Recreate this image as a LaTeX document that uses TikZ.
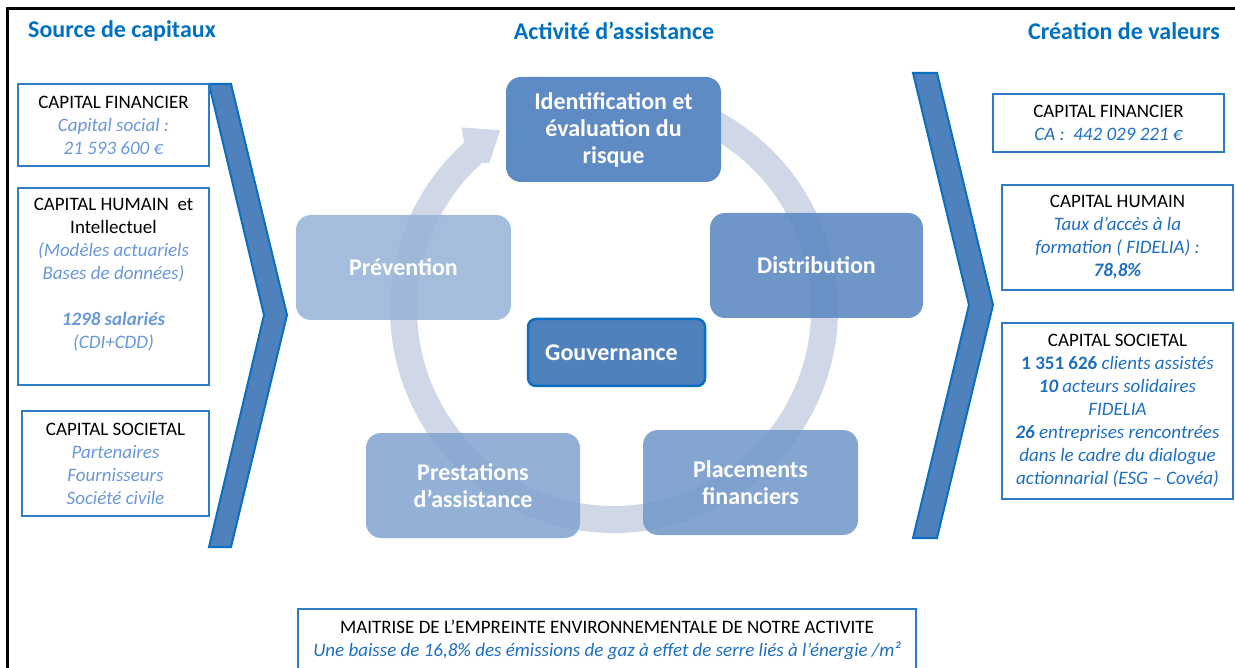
\documentclass[tikz,border=0pt]{standalone}
\usepackage{fontspec}
\setmainfont{Carlito}
\definecolor{hdrblue}{HTML}{0070C0}
\definecolor{boxblue}{HTML}{2E7BC6}
\definecolor{lblue}{HTML}{6A98D8}
\definecolor{dblue}{HTML}{1F6FC0}
\definecolor{chevfill}{HTML}{4F81BD}
\definecolor{chevdraw}{HTML}{0A6FC2}
\definecolor{ringc}{HTML}{D0D8E8}
\definecolor{cIdent}{HTML}{5F8BC4}
\definecolor{cDist}{HTML}{5A88C2}
\definecolor{cPrev}{HTML}{99B4D8}
\definecolor{cPrest}{HTML}{84A5D0}
\definecolor{cPlac}{HTML}{7399C9}
\definecolor{cGouv}{HTML}{4F81BD}
\begin{document}
\begin{tikzpicture}[x=1pt,y=-1pt,
  hdr/.style={font=\fontsize{24}{29}\selectfont\bfseries, text=hdrblue},
  capbox/.style={draw=boxblue, line width=1.6pt, fill=white, inner sep=0pt,
    align=center, font=\fontsize{19}{23}\selectfont},
  txt/.style={align=center, font=\fontsize{19}{23}\selectfont, inner sep=0pt},
  cyc/.style={rounded corners=15pt, text=white, inner sep=0pt, align=center,
    font=\fontsize{24}{27}\selectfont\bfseries, fill opacity=0.88, text opacity=1},
  chev/.style={fill=chevfill, draw=chevdraw, line width=2pt, line join=miter},
]
\useasboundingbox (0,0) rectangle (1235,668);
\clip (0,0) rectangle (1235,668);
% frame
\draw[line width=3pt] (1245,9) -- (7,9) -- (7,680);
% headers
\node[hdr] (h1) at (122,31) {Source de capitaux};
\node[hdr] (h2) at (614,31) {Activité d’assistance};
\node[hdr] (h3) at (1124,31) {Création de valeurs};
% chevrons
\draw[chev] (209,84) -- (231,84) -- (287,315) -- (231,547) -- (209,547) -- (264,315) -- cycle;
\draw[chev] (913,73) -- (937,73) -- (993,305) -- (937,538) -- (913,538) -- (969,305) -- cycle;
% left boxes
\node[capbox, minimum width=191, minimum height=82] (l1) at (113.5,125)
  {CAPITAL FINANCIER\\\textcolor{lblue}{\itshape Capital social :}\\\textcolor{lblue}{\itshape 21 593 600 €}};
\node[capbox, minimum width=191, minimum height=197] (l2) at (113.5,286.5) {};
\node[txt] (l2t) at (113.5,275) {CAPITAL HUMAIN\ \ et\\Intellectuel\\
  \textcolor{lblue}{\itshape (Modèles actuariels}\\\textcolor{lblue}{\itshape Bases de données)}\\[23pt]
  \textcolor{lblue}{\bfseries\itshape 1298 salariés}\\\textcolor{lblue}{\itshape (CDI+CDD)}};
\node[capbox, minimum width=187, minimum height=105] (l3) at (115.5,463.5)
  {CAPITAL SOCIETAL\\\textcolor{lblue}{\itshape Partenaires}\\\textcolor{lblue}{\itshape Fournisseurs}\\\textcolor{lblue}{\itshape Société civile}};
% right boxes
\node[capbox, minimum width=231, minimum height=58] (r1) at (1108.5,123)
  {CAPITAL FINANCIER\\\textcolor{dblue}{\itshape CA :\ \ 442 029 221 €}};
\node[capbox, minimum width=231, minimum height=105] (r2) at (1117.5,237.5)
  {CAPITAL HUMAIN\\\textcolor{dblue}{\itshape Taux d’accès à la}\\\textcolor{dblue}{\itshape formation ( FIDELIA) :}\\\textcolor{dblue}{\bfseries\itshape 78,8\%}};
\node[capbox, minimum width=231, minimum height=176] (r3) at (1117.5,411)
  {CAPITAL SOCIETAL\\\textcolor{dblue}{\textbf{1 351 626} \itshape clients assistés}\\
   \textcolor{dblue}{\itshape\textbf{10} acteurs solidaires}\\\textcolor{dblue}{\itshape FIDELIA}\\
   \textcolor{dblue}{\itshape\textbf{26} entreprises rencontrées}\\\textcolor{dblue}{\itshape dans le cadre du dialogue}\\
   \textcolor{dblue}{\itshape actionnarial (ESG – Covéa)}};
% bottom box
\node[capbox, minimum width=618, minimum height=81] (bb) at (607,649.5) {};
\node[txt] (bbt) at (607,639.5) {MAITRISE DE L’EMPREINTE ENVIRONNEMENTALE DE NOTRE ACTIVITE\\
  \textcolor{dblue}{\itshape Une baisse de 16,8\% des émissions de gaz à effet de serre liés à l’énergie /m²}};
% ring
\begin{scope}[shift={(614,309)}, y=1pt]
  \draw[ringc, line width=27pt] (62:210.5) arc[start angle=62, end angle=-229, radius=210.5];
  \fill[ringc] (132:197) -- (132:224) -- (130:237) -- (122.5:212) -- (130.5:192) -- cycle;
\end{scope}
% cycle nodes
\node[cyc, fill=cPrev, minimum width=215, minimum height=105] (prev) at (403.5,267.5) {Prévention};
\node[cyc, fill=cDist, minimum width=213, minimum height=105] (dist) at (816.5,265.5) {Distribution};
\node[cyc, fill=cPrest, minimum width=214, minimum height=105] (prest) at (473,485.5) {Prestations\\d’assistance};
\node[cyc, fill=cPlac, minimum width=215, minimum height=105] (plac) at (750.5,482.5) {Placements\\financiers};
\node[cyc, fill=cIdent, fill opacity=1, minimum width=215, minimum height=105] (ident) at (613.5,129.5) {Identification et\\évaluation du\\risque};
\node[cyc, fill=cGouv, fill opacity=1, draw=chevdraw, line width=2.5pt, rounded corners=8pt,
  minimum width=177, minimum height=67] (gouv) at (616.5,352.5) {Gouvernance\hspace*{10pt}};
\end{tikzpicture}
\end{document}
